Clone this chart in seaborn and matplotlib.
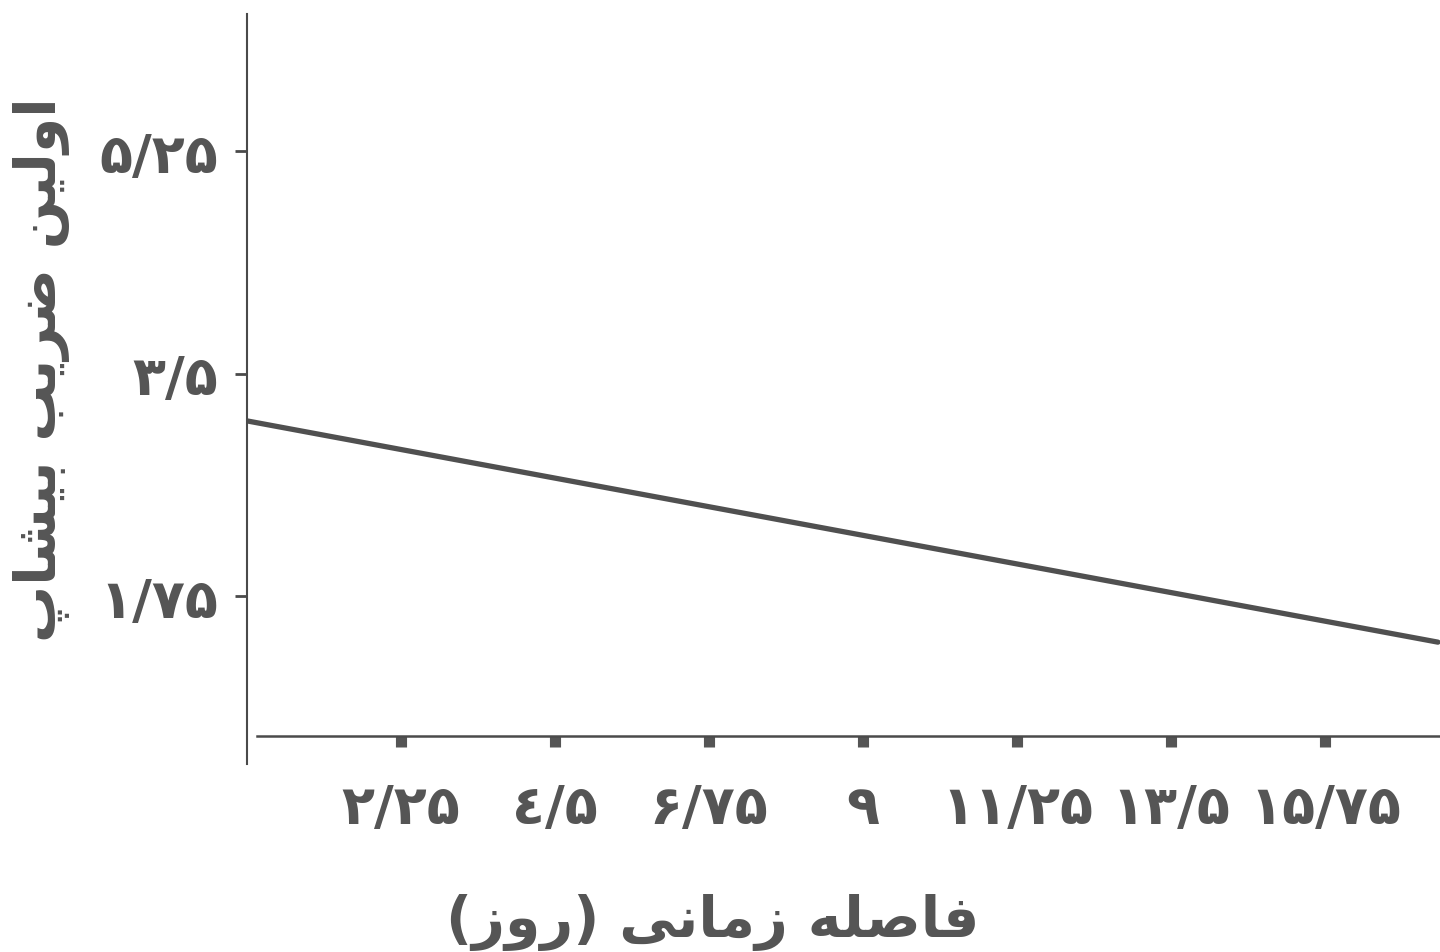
import matplotlib.pyplot as plt
import seaborn as sns
import pandas as pd

# regression line: days vs first Bishop coefficient
days = [0.0, 17.4]
bishop = [3.13, 1.39]

x_ticks = [2.25, 4.5, 6.75, 9, 11.25, 13.5, 15.75]
x_labels = ['۲/۲۵', '٤/۵', '۶/۷۵', '۹', '۱۱/۲۵', '۱۳/۵', '۱۵/۷۵']
y_ticks = [1.75, 3.5, 5.25]
y_labels = ['۱/۷۵', '۳/۵', '۵/۲۵']

# matplotlib has no Arabic shaping, so the labels are given in visual order
# with presentation forms: "اولین ضریب بیشاپ" and "فاصله زمانی (روز)"
y_title = ('\uFB56\uFE8E\uFEB8\uFBFF\uFE91 '
           '\uFE90\uFBFE\uFEAE\uFEBF '
           '\uFEE6\uFBFF\uFEDF\uFEED\uFE8D')
x_title = ('(\uFEAF\uFEED\uFEAD) '
           '\uFBFD\uFEE7\uFE8E\uFEE3\uFEAF '
           '\uFEEA\uFEE0\uFEBB\uFE8E\uFED3')

ink = '#4a4a4a'
text_col = '#555555'

sns.set_theme(style='white')
plt.rcParams['font.family'] = ['DejaVu Sans']

fig = plt.figure(figsize=(14.4, 9.53), dpi=100)
ax = fig.add_axes([0.1715, 0.1973, 0.8285, 0.787])

df = pd.DataFrame({'days': days, 'bishop': bishop})
sns.lineplot(data=df, x='days', y='bishop', ax=ax, color='#505050', linewidth=3.8)

ax.set_xlim(0, 17.43)
ax.set_ylim(0.432, 6.33)

for s in ['top', 'right']:
    ax.spines[s].set_visible(False)
ax.spines['left'].set_color(ink)
ax.spines['left'].set_linewidth(1.5)
ax.spines['bottom'].set_position(('data', 0.652))
ax.spines['bottom'].set_bounds(0.15, 17.43)
ax.spines['bottom'].set_color(ink)
ax.spines['bottom'].set_linewidth(1.8)

ax.set_xticks(x_ticks)
ax.set_xticklabels(x_labels, fontsize=39, fontweight='bold', color=text_col)
ax.set_yticks(y_ticks)
ax.set_yticklabels(y_labels, fontsize=39, fontweight='bold', color=text_col)
ax.tick_params(axis='x', direction='out', length=8, width=8, color=text_col, pad=25, bottom=True)
ax.tick_params(axis='y', direction='out', length=9, width=2, color=ink, pad=12, left=True)

ax.set_xlabel(x_title, fontsize=41, fontweight='bold', color=text_col)
ax.xaxis.set_label_coords(0.39, -0.21)
ax.xaxis.label.set_va('center')
ax.set_ylabel(y_title, fontsize=41, fontweight='bold', color=text_col)
ax.yaxis.set_label_coords(-0.172, 0.527)
ax.yaxis.label.set_va('center')

fig.savefig('out.png', dpi=100)
